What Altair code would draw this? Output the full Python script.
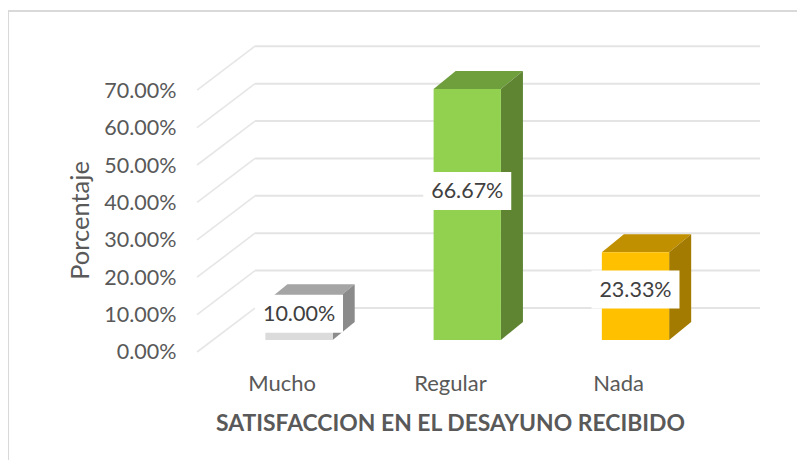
import altair as alt
import pandas as pd

categories = ["Mucho", "Regular", "Nada"]
values = [0.10, 0.6667, 0.2333]
label_texts = ["10.00%", "66.67%", "23.33%"]
label_centers = [0.0695, 0.396, 0.134]
positions = [0, 1, 2]
front_colors = ["#dbdbdb", "#92d050", "#ffc000"]
top_colors = ["#a5a5a5", "#6f9e3c", "#c09000"]
side_colors = ["#8b8b8b", "#5f8533", "#a27b00"]
tick_values = [0, 0.1, 0.2, 0.3, 0.4, 0.5, 0.6, 0.7]

FONT = "Lato"
X_DOM = [-0.648, 2.7995]
Y_FRONT_DOM = [-0.0214, 0.861]   # wall/axis plane
Y_BAR_DOM = [-0.0531, 0.8234]    # plane in which the bars stand
HW, DX, DY = 0.2, 0.131, 0.0478
BOX_W, BOX_H = 0.2615, 0.0505
LABEL_SHIFT = 0.103              # category labels sit in the front plane, left of the bars

xs = alt.Scale(domain=X_DOM, nice=False, zero=False)
yf = alt.Scale(domain=Y_FRONT_DOM, nice=False, zero=False)
yb = alt.Scale(domain=Y_BAR_DOM, nice=False, zero=False)
label_expr = "datum.value<0.5?'Mucho':datum.value<1.5?'Regular':'Nada'"

x_axis = alt.Axis(values=[p - LABEL_SHIFT for p in positions], labelExpr=label_expr,
                  domain=False, ticks=False, grid=False,
                  labelFont=FONT, labelFontSize=22, labelFontWeight="normal", labelColor="#595959", labelPadding=13,
                  title="SATISFACCION EN EL DESAYUNO RECIBIDO", titleFont=FONT, titleFontSize=22.9,
                  titleFontWeight="bold", titleColor="#595959", titleX=260, titleY=63.5,
                  titleBaseline="middle")
y_axis = alt.Axis(values=tick_values, format=".2%", domain=False, ticks=False, grid=False,
                  labelFont=FONT, labelFontSize=21.5, labelColor="#595959", labelPadding=14, labelOffset=1,
                  title="Porcentaje", titleFont=FONT, titleFontSize=25.5, titleFontWeight="normal",
                  titleColor="#595959", titleX=-110, titleY=190, titleBaseline="middle")

X = alt.X("x:Q", scale=xs, axis=None)

# gridlines: side wall + back wall
grid_rows = []
for v in tick_values:
    grid_rows += [
        {"x": -0.606, "y": v, "v": v},
        {"x": -0.2615, "y": v + 0.1176, "v": v},
        {"x": 2.74, "y": v + 0.1176, "v": v},
    ]
grid_side = alt.Chart(pd.DataFrame([r for r in grid_rows if r["x"] < 0])).mark_line(
    color="#e6e6e6", strokeWidth=1.6).encode(
    x=X, y=alt.Y("y:Q", scale=yf, axis=None), detail="v:N")
grid_back = alt.Chart(pd.DataFrame([r for r in grid_rows if r["x"] > -0.3])).mark_line(
    color="#e4e4e4", strokeWidth=2).encode(
    x=X, y=alt.Y("y:Q", scale=yf, axis=None), detail="v:N")

# chart frame (this layer also carries the axes)
frame_h = alt.Chart(pd.DataFrame({"x": [-1.7296], "x2": [3.008], "y": [0.9118]})).mark_rule(
    color="#d9d9d9", strokeWidth=2, clip=False).encode(
    x=alt.X("x:Q", scale=xs, axis=x_axis), x2="x2:Q", y=alt.Y("y:Q", scale=yf, axis=y_axis))
frame_v = alt.Chart(pd.DataFrame({"x": [-1.7296], "y": [0.9118], "y2": [-0.3]})).mark_rule(
    color="#d9d9d9", strokeWidth=2, clip=False).encode(
    x=X, y=alt.Y("y:Q", scale=yf, axis=None), y2="y2:Q")

# 3-D boxes
top_rows, side_rows = [], []
for i, (p, v) in enumerate(zip(positions, values)):
    x0, x1 = p - HW, p + HW
    for x, lo, hi in [(x0, v, v), (x0 + DX, v, v + DY), (x1, v, v + DY), (x1 + DX, v + DY, v + DY)]:
        top_rows.append({"x": x, "y": lo, "y2": hi, "cat": categories[i]})
    for x, lo, hi in [(x1, 0, v), (x1 + DX, DY, v + DY)]:
        side_rows.append({"x": x, "y": lo, "y2": hi, "cat": categories[i]})

def face(rows, colors):
    return alt.Chart(pd.DataFrame(rows)).mark_area(opacity=1).encode(
        x=X, y=alt.Y("y:Q", scale=yb, axis=None), y2="y2:Q",
        color=alt.Color("cat:N", scale=alt.Scale(domain=categories, range=colors), legend=None))

bars = pd.DataFrame({"cat": categories, "x": [p - HW for p in positions],
                     "x2": [p + HW for p in positions], "y": values, "y0": [0, 0, 0]})
front = alt.Chart(bars).mark_rect().encode(
    x=X, x2="x2:Q", y=alt.Y("y:Q", scale=yb, axis=None), y2="y0:Q",
    color=alt.Color("cat:N", scale=alt.Scale(domain=categories, range=front_colors), legend=None))

boxes = pd.DataFrame({
    "x": [p - BOX_W for p in positions], "x2": [p + BOX_W for p in positions],
    "y": [c + BOX_H for c in label_centers], "y2": [c - BOX_H for c in label_centers]})
label_box = alt.Chart(boxes).mark_rect(color="white").encode(
    x=X, x2="x2:Q", y=alt.Y("y:Q", scale=yb, axis=None), y2="y2:Q")
label_df = pd.DataFrame({"x": positions, "y": label_centers, "t": label_texts})
label_text = alt.Chart(label_df).mark_text(font=FONT, fontSize=21.5, color="#404040", baseline="middle", dy=1).encode(
    x=X, y=alt.Y("y:Q", scale=yb, axis=None), text="t:N")

chart = alt.layer(
    frame_h, frame_v, grid_side, grid_back,
    face(top_rows, top_colors), face(side_rows, side_colors), front,
    label_box, label_text
).resolve_scale(y="independent", color="independent").resolve_axis(x="independent").properties(
    width=580, height=330,
    autosize=alt.AutoSizeParams(type="none"),
    padding={"left": 182, "top": 22, "right": 27, "bottom": 100},
).configure_view(stroke=None).configure_axis(labelOverlap=False)

chart.save("out.html", embed_options={"renderer": "svg", "actions": False})
